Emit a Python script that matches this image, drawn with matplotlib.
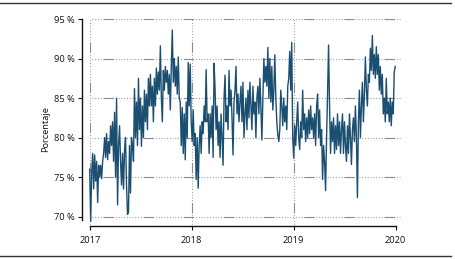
import matplotlib
matplotlib.use("Agg")
import matplotlib.pyplot as plt
import matplotlib.dates as mdates
from matplotlib.lines import Line2D
import pandas as pd
import numpy as np

# ---- data (approx. one value every ~3.6 days) ----
values = [
    76.0, 69.4, 75.5, 78.0, 73.5, 77.8, 74.5, 77.0, 71.8, 76.5, 75.0, 76.5, 74.8, 77.0,
    78.0, 80.0, 77.5, 80.5, 77.2, 79.5, 78.0, 81.5, 79.0, 82.0, 77.0, 83.2, 75.0,
    85.0, 71.5, 79.0, 81.5, 77.0, 74.0, 78.0, 73.5, 78.5, 80.0, 74.0, 70.3, 70.6, 79.0,
    73.0, 80.0, 79.0, 77.0, 86.2, 80.0, 84.5, 79.0, 87.5, 81.0, 85.0, 78.9, 84.0, 80.0,
    86.0, 82.0, 85.5, 81.0, 87.5, 84.0, 88.0, 84.0, 86.5, 82.0, 87.5, 84.0, 88.8, 85.5,
    88.3, 86.0, 91.6, 85.0, 82.0, 88.5, 86.0, 89.0, 87.0, 88.5, 85.5, 88.0, 83.5, 89.0,
    93.6, 87.0, 90.0, 86.5, 89.0, 85.5, 90.2, 85.0, 84.5, 79.0, 83.8, 78.0, 83.0, 77.2,
    84.5, 80.0, 89.5, 84.0, 89.3, 82.0, 79.5, 83.5, 79.0, 80.5, 74.7, 80.0, 73.6, 79.0,
    81.5, 78.0, 82.0, 80.5, 84.0, 82.0, 88.6, 82.0, 83.0, 78.0, 83.0, 80.0, 84.0, 77.5,
    89.4, 86.0, 81.0, 84.0, 79.0, 82.0, 77.5, 83.0, 80.0, 76.5, 85.0, 87.9, 82.0, 84.0,
    81.0, 88.5, 84.0, 86.0, 82.5, 77.8, 84.5, 86.0, 89.0, 83.0, 85.5, 82.0, 84.5, 86.5,
    82.0, 87.0, 80.0, 83.0, 85.0, 81.0, 86.0, 82.5, 87.0, 84.0, 81.0, 86.5, 83.0, 84.5,
    80.0, 85.0, 86.5, 83.0, 87.5, 84.0, 79.7, 85.0, 90.0, 87.0, 89.0, 86.5, 91.4, 85.0,
    90.0, 84.5, 89.0, 83.5, 86.0, 90.45, 85.0, 82.0, 80.4, 79.5, 81.0, 86.0, 84.0, 81.5,
    85.0, 82.0, 84.0, 81.0, 86.5, 87.5, 90.9, 86.0, 92.05, 80.0, 77.4, 81.5, 79.0, 82.0,
    84.5, 80.0, 78.5, 82.0, 80.0, 86.0, 81.0, 83.0, 79.5, 82.5, 80.0, 83.5, 80.5, 84.0,
    81.0, 82.5, 80.0, 83.0, 79.0, 84.0, 85.5, 80.0, 83.5, 79.0, 81.0, 74.7, 79.0, 77.0,
    73.3, 80.0, 85.5, 91.7, 84.0, 78.0, 82.0, 79.5, 82.5, 78.0, 81.5, 78.5, 83.0, 79.0,
    82.0, 78.0, 81.0, 83.0, 78.0, 82.0, 79.0, 77.0, 81.5, 78.0, 83.0, 80.0, 76.6, 81.0,
    82.5, 79.5, 84.0, 80.0, 72.4, 82.0, 86.0, 80.0, 84.0, 87.0, 82.0, 85.5, 90.2, 86.0,
    84.0, 88.0, 87.0, 91.3, 88.5, 92.9, 88.0, 90.5, 87.5, 91.5, 88.0, 90.5, 86.0, 89.0,
    85.5, 88.0, 83.0, 85.0, 82.0, 87.5, 83.0, 84.5, 82.0, 85.0, 81.5, 84.5, 83.0, 88.3,
    89.0,
]
dates = pd.date_range("2017-01-01", "2019-12-31", periods=len(values))
year_ticks = [2017, 2018, 2019, 2020]
y_ticks = [70, 75, 80, 85, 90, 95]
y_tick_labels = [f"{v} %" for v in y_ticks]
ylabel = "Porcentaje"

# ---- style ----
plt.rcParams["font.family"] = ["Open Sans", "DejaVu Sans"]
plt.rcParams["lines.scale_dashes"] = False
text_color = "#111111"
grid_color = "#8a8a8a"
line_color = "#1b4f72"
grid_dash = (10.6, [0.6, 1.4] * 10 + [7.5, 1.4])

fig = plt.figure(figsize=(4.56, 2.59), dpi=100)
ax = fig.add_axes([0.1967, 0.1274, 0.879 - 0.1967, 0.9266 - 0.1274])

ax.plot(dates, values, color=line_color, lw=1.0, zorder=3, clip_on=False)

x0 = pd.Timestamp("2017-01-01")
ax.set_xlim(mdates.date2num(x0), mdates.date2num(pd.Timestamp("2020-01-20")))
ax.set_ylim(68.82, 95)

xt = [mdates.date2num(pd.Timestamp(f"{y}-01-01")) for y in year_ticks]
ax.set_xticks(xt)
ax.set_xticklabels([str(y) for y in year_ticks])
ax.set_yticks(y_ticks)
ax.set_yticklabels(y_tick_labels)

for v in y_ticks:
    ax.axhline(v, color=grid_color, lw=0.8, linestyle=grid_dash, zorder=1)
for x in xt[:3]:
    ax.axvline(x, color=grid_color, lw=0.8, linestyle=grid_dash, zorder=1)

for s in ["top", "right"]:
    ax.spines[s].set_visible(False)
ax.spines["left"].set_position(("outward", 5.5))
ax.spines["left"].set_bounds(69.6, 95)
ax.spines["bottom"].set_bounds(xt[0], xt[-1])
for s in ["left", "bottom"]:
    ax.spines[s].set_color(text_color)
    ax.spines[s].set_linewidth(1.0)

ax.tick_params(axis="both", direction="out", length=3, width=0.8,
               colors=text_color, labelsize=6.7, pad=2.5)
ax.tick_params(axis="x", pad=4)

ax.set_ylabel(ylabel, fontsize=6.7, color=text_color)
ax.yaxis.set_label_coords(-0.128, 0.47)

fig.add_artist(Line2D([0, 0.989], [0.9865, 0.9865], color="#333333", lw=1.0,
                      transform=fig.transFigure))
fig.add_artist(Line2D([0, 0.989], [0.0097, 0.0097], color="#333333", lw=1.0,
                      transform=fig.transFigure))

fig.savefig("out.png", dpi=100)
